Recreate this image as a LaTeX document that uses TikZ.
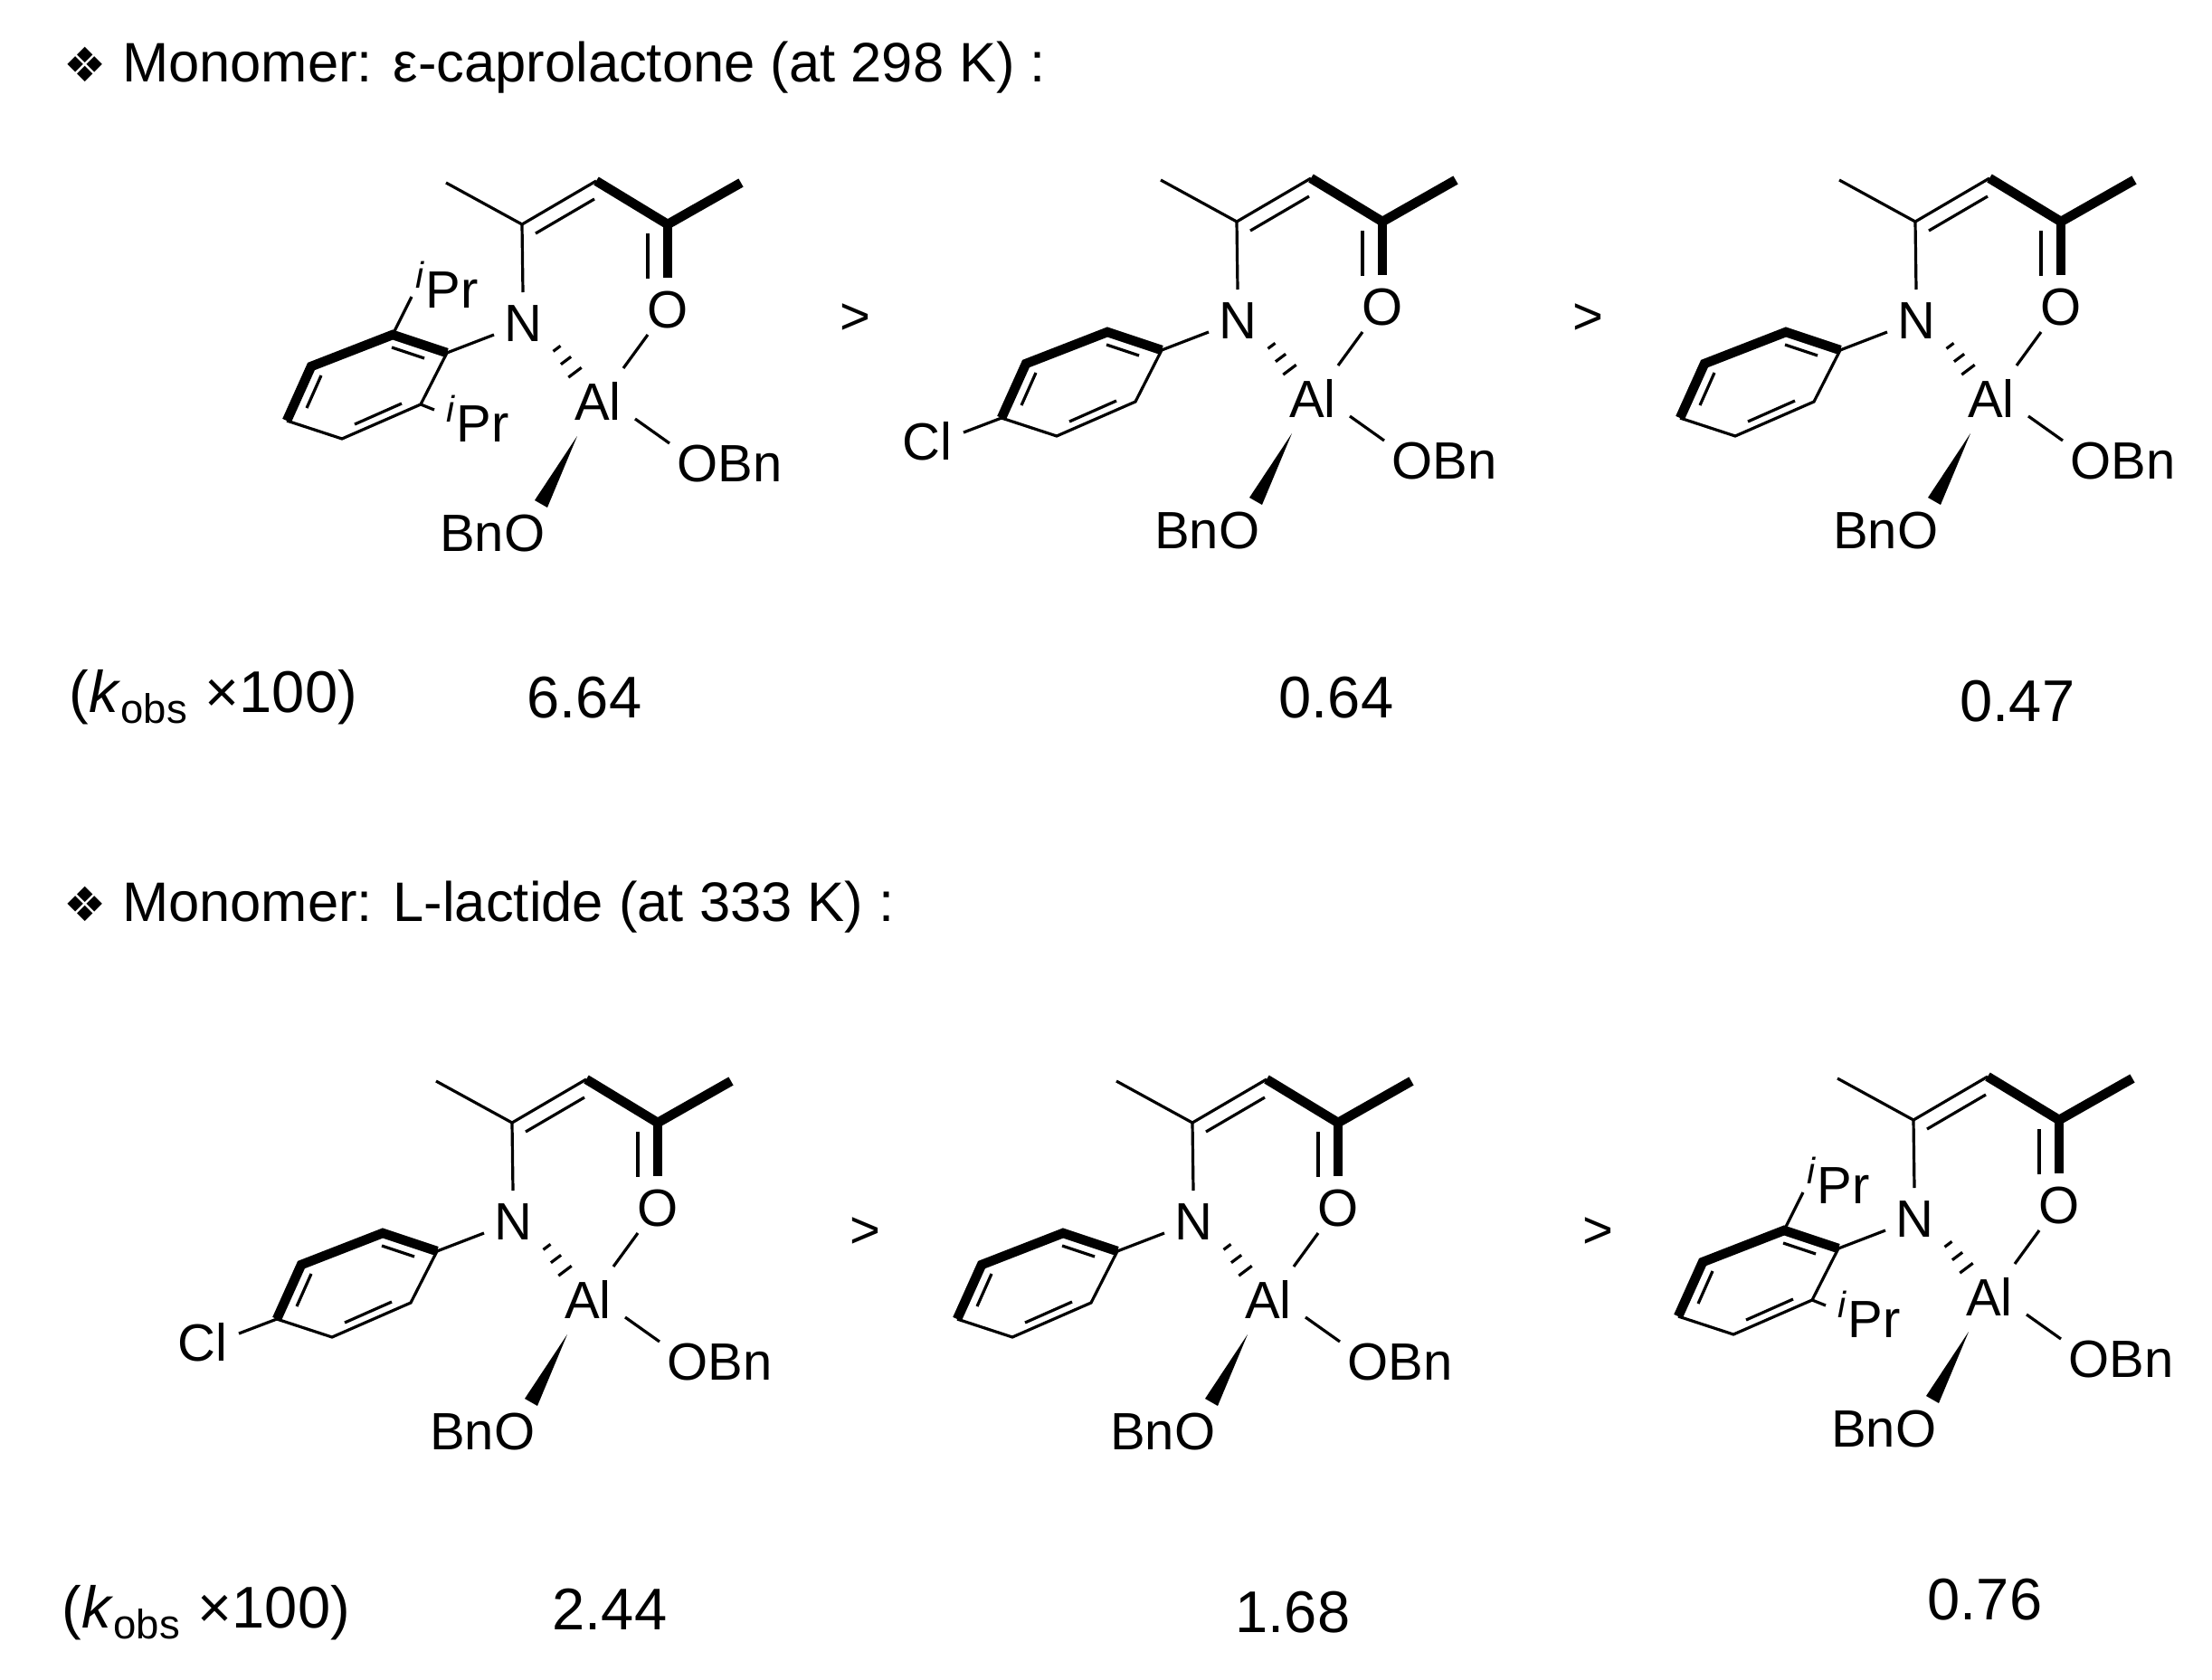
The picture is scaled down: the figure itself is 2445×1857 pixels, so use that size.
\documentclass[tikz,border=0pt]{standalone}
\usepackage{fontspec}
\setmainfont{Liberation Sans}
\newfontfamily\dingfont{DejaVu Sans}
\begin{document}
\begin{tikzpicture}[x=0.1mm,y=-0.1mm,
  thinb/.style={line width=0.32mm,line cap=butt},
  boldb/.style={line width=1.05mm,line cap=butt,line join=miter},
  lbl/.style={inner sep=0pt,font=\fontsize{16.5}{19}\selectfont},
  big/.style={inner sep=0pt,font=\fontsize{18.5}{22}\selectfont},
  head/.style={inner sep=0pt,anchor=west,font=\fontsize{17.5}{21}\selectfont}]
\useasboundingbox (0,0) rectangle (2445,1857);
\newcommand\mymol[3]{%
\begin{scope}[shift={(#1,#2)}]
 \node[lbl] (al) at (0,0) {Al};
 \node[lbl] (n) at (-83,-85) {N};
 \node[lbl] (o) at (77,-100) {O};
 \node[lbl,anchor=west] (obn) at (87,70) {OBn};
 \node[lbl,anchor=east] (bno) at (-58,147) {BnO};
 \coordinate (me1) at (-168,-241); \coordinate (c1) at (-84,-195);
 \coordinate (c2) at (-2,-243); \coordinate (c3) at (77,-195);
 \coordinate (me2) at (158,-241);
 \draw[thinb] (me1) -- (c1) -- (c2);
 \draw[thinb] (-69,-185) -- (-4,-223);
 \draw[boldb] (c2) -- (c3) -- (me2);
 \draw[boldb] (c3) -- (77,-136);
 \draw[thinb] (55,-185) -- (55,-135);
 \draw[thinb] (c1) -- (-83,-120);
 \draw[thinb] (55,-73) -- (28,-36);
 \draw[thinb] (41,20) -- (79,47);
 \fill (-23,39) -- (-56,118) -- (-70,110) -- cycle;
 \foreach \t/\h in {0.1/5,0.5/7,0.9/9}
   \draw[thinb] ({-48+25*\t+0.8*\h},{-61+33*\t-0.6*\h}) -- ({-48+25*\t-0.8*\h},{-61+33*\t+0.6*\h});
 \coordinate (ra) at (-167,-53); \coordinate (rb) at (-227,-73);
 \coordinate (rc) at (-317,-38); \coordinate (rd) at (-344,22);
 \coordinate (re) at (-283,42); \coordinate (rf) at (-196,4);
 \draw[thinb] (-115,-73) -- (ra);
 \draw[boldb] (ra) -- (rb) -- (rc) -- (rd);
 \draw[thinb] (rd) -- (re) -- (rf) -- (ra);
 \draw[thinb] (-192,-47) -- (-228,-59);
 \draw[thinb] (-306,-28) -- (-322,8);
 \draw[thinb] (-269,26) -- (-217,3);
 \ifcase#3
   \draw[thinb] (rb) -- (-206,-115);
   \draw[thinb] (rf) -- (-181,10);
   \node[lbl] (ipr1) at (-167,-128) {\textsuperscript{\itshape i}Pr};
   \node[lbl] (ipr2) at (-133,20) {\textsuperscript{\itshape i}Pr};
 \or
   \node[lbl] (cl) at (-426,48) {Cl};
   \draw[thinb] (rd) -- (-386,38);
 \or
 \fi
\end{scope}}
\mymol{661}{443}{0}
\mymol{1451}{440}{1}
\mymol{2201}{440}{2}
\mymol{650}{1436}{1}
\mymol{1402}{1436}{2}
\mymol{2199}{1433}{0}
\node[head] (h1) at (70,75) {{\dingfont\fontsize{15}{18}\selectfont ❖} Monomer: ε-caprolactone (at 298 K) :};
\node[head] (h2) at (70,1003) {{\dingfont\fontsize{15}{18}\selectfont ❖} Monomer: L-lactide (at 333 K) :};
\node[big,anchor=west] (k1) at (76,771) {(\textit{k}\textsubscript{obs} ×100)};
\node[big,anchor=west] (k2) at (68,1783) {(\textit{k}\textsubscript{obs} ×100)};
\node[big] (v1) at (646,771) {6.64};
\node[big] (v2) at (1477,771) {0.64};
\node[big] (v3) at (2230,775) {0.47};
\node[big] (v4) at (674,1779) {2.44};
\node[big] (v5) at (1429,1782) {1.68};
\node[big] (v6) at (2194,1768) {0.76};
\node[lbl] (g1) at (945,353) {>};
\node[lbl] (g2) at (1755,353) {>};
\node[lbl] (g3) at (956,1363) {>};
\node[lbl] (g4) at (1766,1363) {>};
\end{tikzpicture}
\end{document}
